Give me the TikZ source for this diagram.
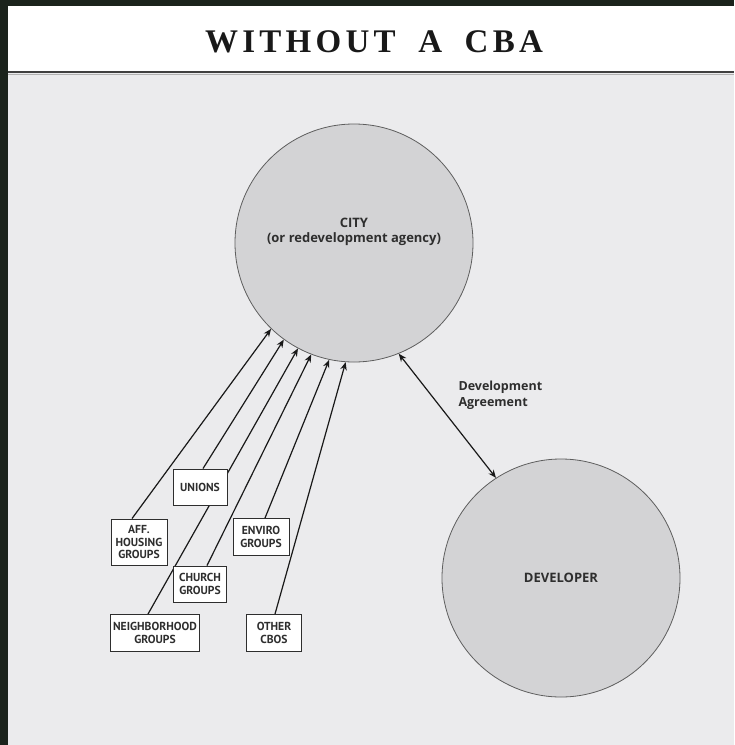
\documentclass[tikz,border=0pt]{standalone}
\usepackage{fontspec}
\setmainfont{Liberation Serif}
\setsansfont{Open Sans}
\newfontfamily\boxfont{PT Sans}
\newfontfamily\titlefont[LetterSpace=13,WordSpace=1.8]{Liberation Serif}
\usetikzlibrary{arrows.meta}
\definecolor{frame}{HTML}{1B231C}
\definecolor{paper}{HTML}{EBEBED}
\definecolor{disc}{HTML}{D3D3D5}
\definecolor{rim}{HTML}{5E5E5E}
\definecolor{ink}{HTML}{2E2E2E}
\pgfdeclarelayer{back}
\pgfdeclarelayer{links}
\pgfsetlayers{back,links,main}

\begin{document}
\begin{tikzpicture}[x=1pt,y=-1pt,
  party/.style={circle,draw=rim,line width=0.8pt,fill=disc,minimum size=238pt,inner sep=0pt},
  partytext/.style={text=ink,align=center,font=\sffamily\bfseries\fontsize{13}{15}\selectfont},
  group/.style={draw=ink,line width=0.9pt,fill=white,inner sep=1pt,text=ink,align=center,
    font=\boxfont\bfseries\fontsize{11.6}{12.5}\selectfont},
  tie/.style={line width=1.2pt,draw=black!90,-{Stealth[length=8pt,width=6.5pt]}},
  deal/.style={line width=1.2pt,draw=black!90,{Stealth[length=8pt,width=6.5pt]}-{Stealth[length=8pt,width=6.5pt]}}]

% Frame, header and page
\begin{pgfonlayer}{back}
\fill[frame] (0,0) rectangle (734,745);
\fill[white] (8,6) rectangle (734,71);
\fill[paper] (8,71) rectangle (734,745);
\draw[black!75,line width=2pt] (8,72) -- (734,72);
\draw[black!30,line width=1pt] (8,74) -- (734,74);
\end{pgfonlayer}
\node[font=\titlefont\bfseries\fontsize{33}{40}\selectfont,text=black!90,anchor=base] (title) at (374,52) {WITHOUT A CBA};

% The two parties
\node[party] (city) at (354,243) {};
\node[partytext] (citylabel) at (354,232) {CITY\\(or redevelopment agency)};
\node[party,partytext] (dev) at (561,578) {DEVELOPER};

% Community groups
\node[group,minimum width=56pt,minimum height=46pt] (aff) at (139,542) {AFF.\\HOUSING\\GROUPS};
\node[group,minimum width=54pt,minimum height=36pt] (unions) at (200,487) {UNIONS};
\node[group,minimum width=56pt,minimum height=37pt] (enviro) at (261,537) {ENVIRO\\GROUPS};
\node[group,minimum width=53pt,minimum height=36pt] (church) at (200,584) {CHURCH\\GROUPS};
\node[group,minimum width=89pt,minimum height=37pt] (neigh) at (155,633) {NEIGHBORHOOD\\GROUPS};
\node[group,minimum width=55pt,minimum height=37pt] (other) at (274,633) {OTHER\\CBOS};

% Lines to the city
\begin{pgfonlayer}{links}
\draw[tie] ([xshift=-7pt]aff.north) -- (city.226);
\draw[tie] ([xshift=3pt]unions.north) -- (city.234);
\draw[tie] ([xshift=-7pt]neigh.north) -- (city.242);
\draw[tie] ([xshift=7pt]church.north) -- (city.249);
\draw[tie] ([xshift=4pt]enviro.north) -- (city.258);
\draw[tie] ([xshift=1pt]other.north) -- (city.266);
\end{pgfonlayer}

% Development agreement
\draw[deal] (city.292) -- (dev.123);
\node[partytext,align=left,anchor=west,font=\sffamily\bfseries\fontsize{12.5}{16}\selectfont] (agreement) at (455,395) {Development\\Agreement};

\end{tikzpicture}
\end{document}
